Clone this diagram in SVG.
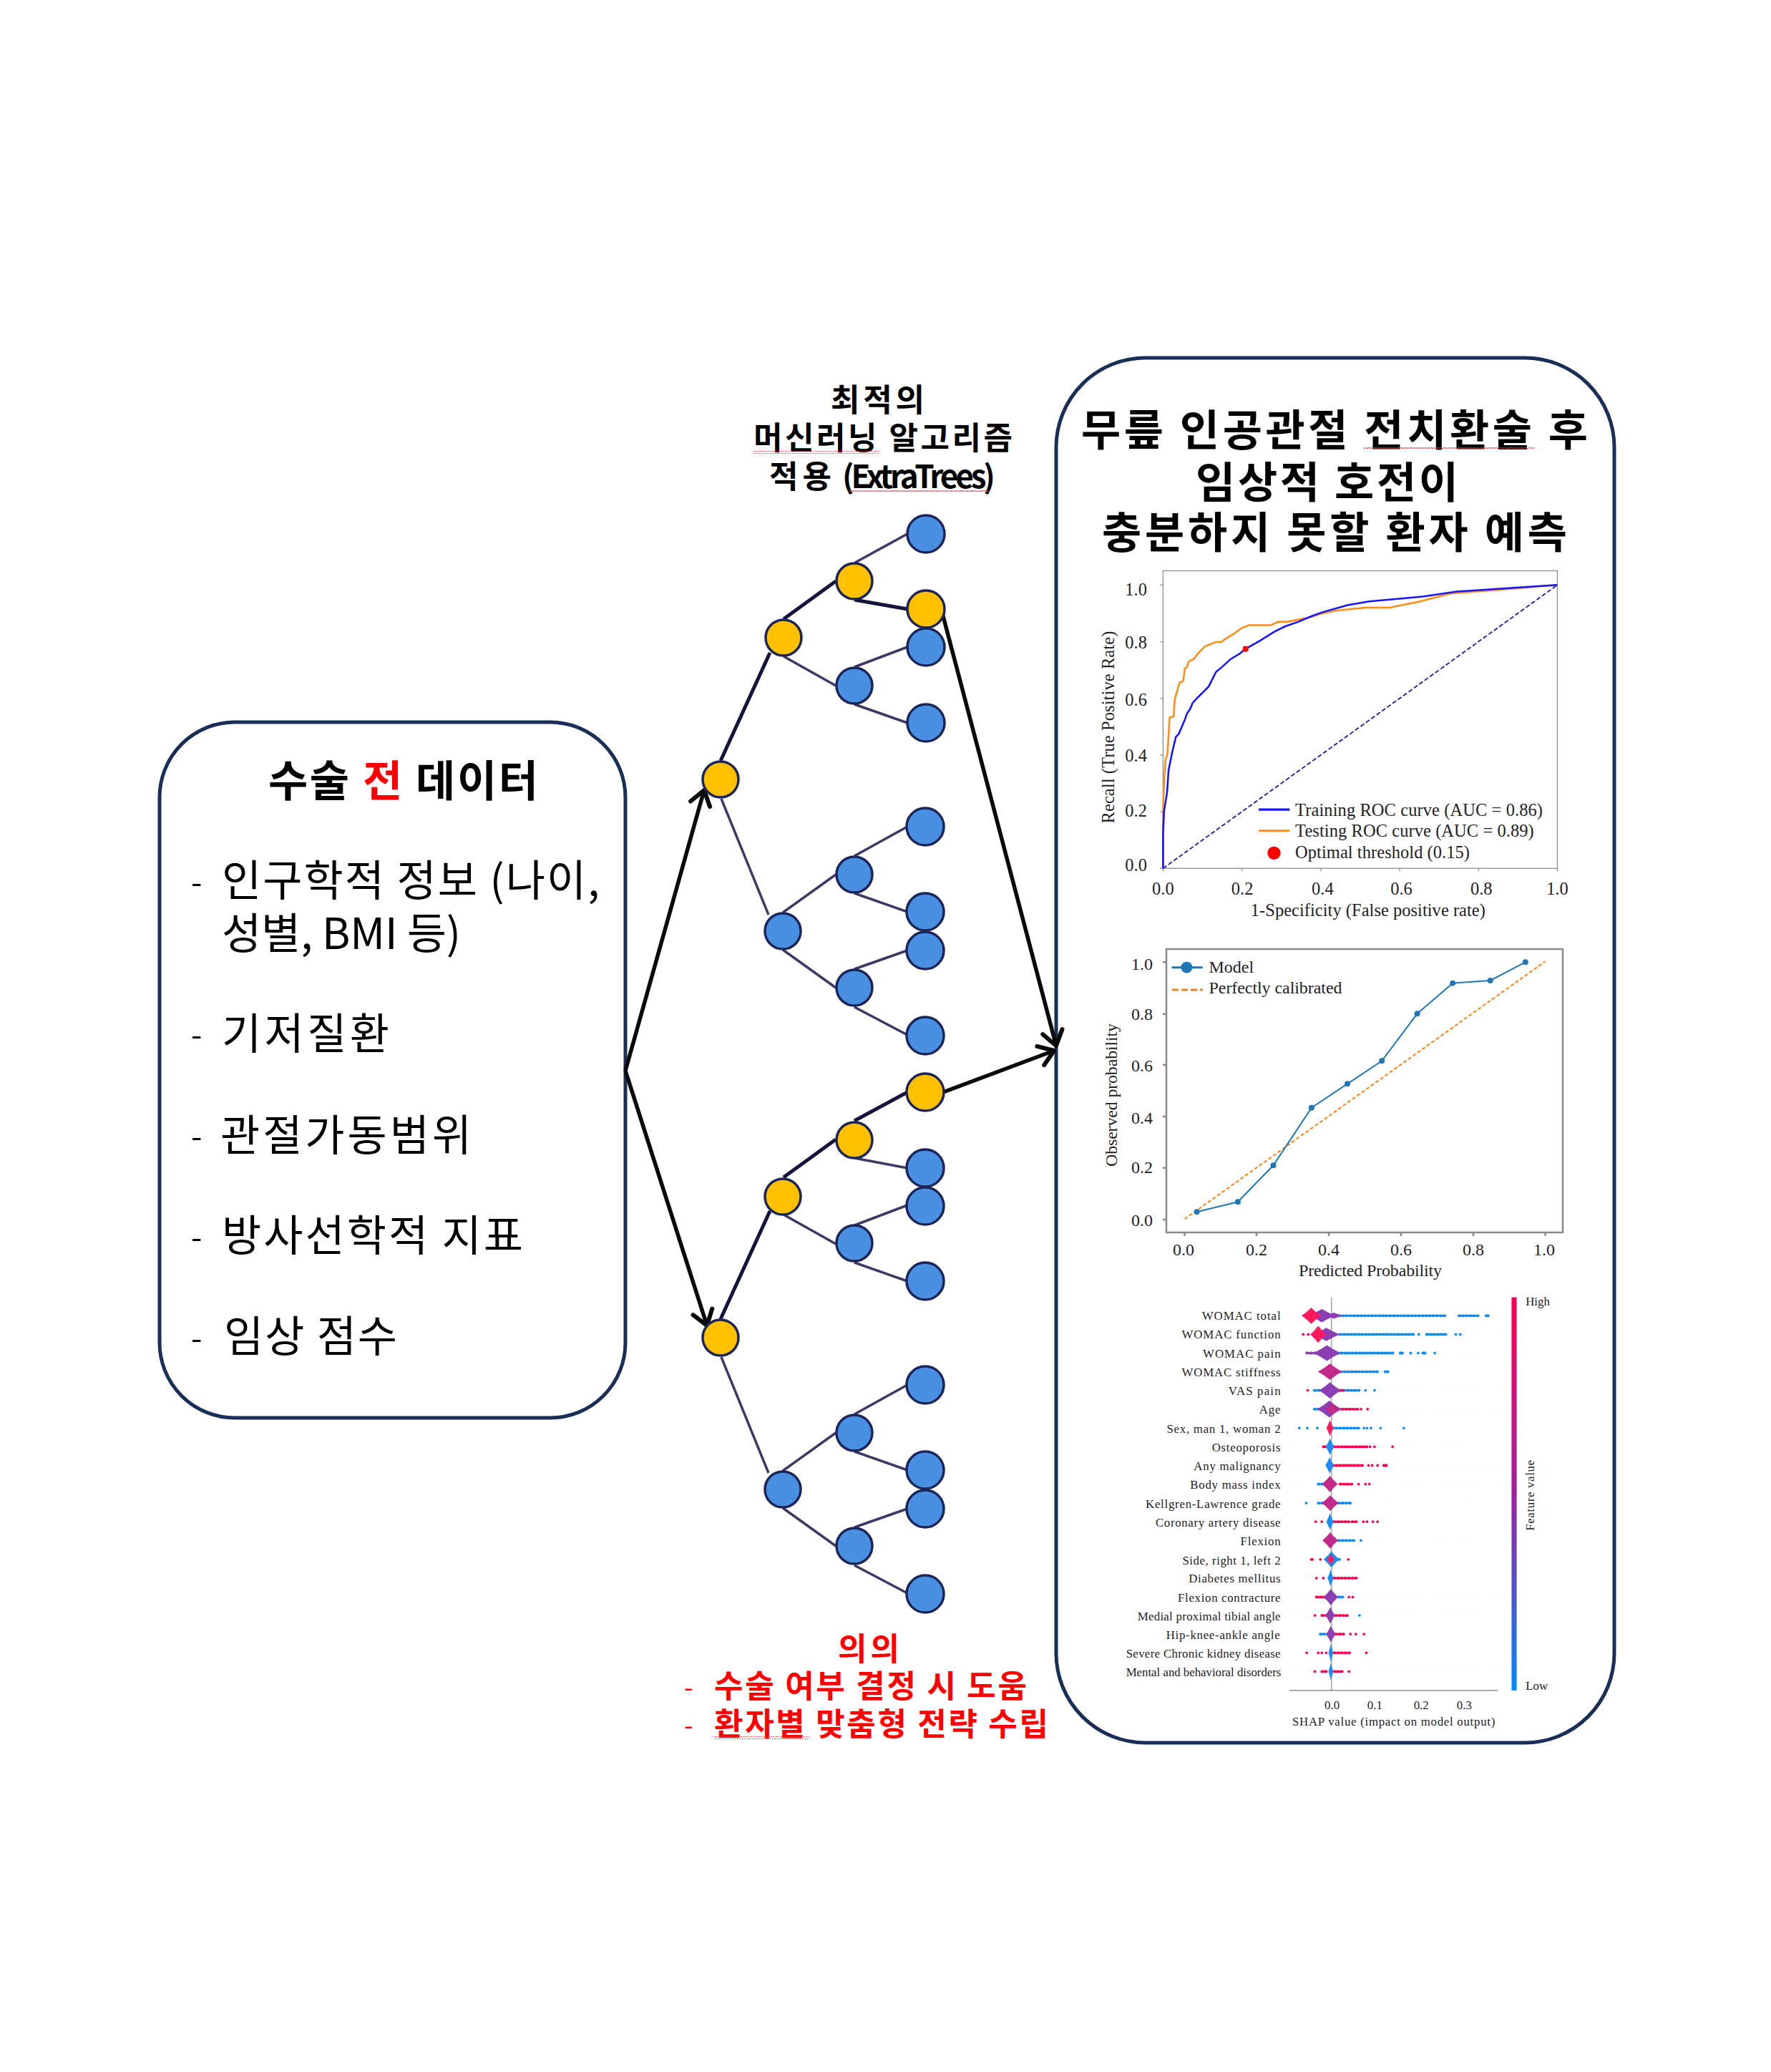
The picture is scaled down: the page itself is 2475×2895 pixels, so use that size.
<svg xmlns="http://www.w3.org/2000/svg" width="2475" height="2895" viewBox="0 0 2475 2895">
<style>
text{font-family:"Noto Sans CJK KR","Noto Sans",sans-serif;fill:#000}
.ttl{font-weight:700}
.lst{font-size:60px}
.dash{font-size:44px}
.red{fill:#f00}
.box{fill:#fff;stroke:#1a2f57;stroke-width:5}
.y circle{fill:#ffc000}
.b circle{fill:#4a90e2}
.y circle,.b circle{stroke:#1b2558;stroke-width:3.5}
.e1{fill:none;stroke:#14143c;stroke-width:5}
.e2{fill:none;stroke:#3c3a64;stroke-width:3.5}
.arr{fill:none;stroke:#0a0a0a;stroke-width:5.5;marker-end:url(#ah)}
.sf text,text.sf{font-family:"Liberation Serif","Times New Roman",serif;fill:#222}
.ax{fill:none;stroke:#8a8a8a;stroke-width:2.5}
.rd{fill:none;stroke:#ff0051;stroke-width:9;stroke-linecap:round}
.bl{fill:none;stroke:#0a8bfb;stroke-width:9;stroke-linecap:round}
.pu{fill:none;stroke:#8a3fb0;stroke-width:9;stroke-linecap:round}
.tail{stroke-dasharray:4 8}
.grid{stroke:#eee;stroke-width:2;stroke-dasharray:3 7}
.bp{fill:#ff1a5e}.bu{fill:#8b3fb2}.bb{fill:#1a8df5}.bm{fill:#c22a8a}
</style>
<defs>
<marker id="ah" viewBox="0 0 32 32" refX="27" refY="16" markerWidth="32" markerHeight="32" markerUnits="userSpaceOnUse" orient="auto" overflow="visible"><path d="M7 2L27 16L7 30" fill="none" stroke="#0a0a0a" stroke-width="6" stroke-linecap="round" stroke-linejoin="round"/></marker>
<pattern id="wave" width="7" height="4" patternUnits="userSpaceOnUse"><path d="M0 3L1.75 1L3.5 3L5.25 1L7 3" fill="none" stroke="#f33" stroke-width="1"/></pattern>
<path id="blob" d="M-1 0Q-.45 -.45 0 -1Q.45 -.45 1 0Q.45 .45 0 1Q-.45 .45 -1 0Z"/>
<linearGradient id="cb" x1="0" y1="0" x2="0" y2="1"><stop offset="0" stop-color="#ff0051"/><stop offset=".5" stop-color="#a020a0"/><stop offset="1" stop-color="#008bfb"/></linearGradient>
</defs>
<rect width="2475" height="2895" fill="#fff"/>

<g id="input-box">
<rect class="box" x="223" y="1009" width="651" height="972" rx="105" ry="105"/>
<text class="ttl" x="375" y="1113" font-size="60" textLength="377">수술 <tspan class="red">전</tspan> 데이터</text>
<text class="dash" x="267" y="1249">-</text><text class="lst" x="310" y="1252" textLength="528">인구학적 정보 (나이,</text>
<text class="lst" x="310" y="1326" textLength="334">성별, BMI 등)</text>
<text class="dash" x="267" y="1462">-</text><text class="lst" x="310" y="1466" textLength="234">기저질환</text>
<text class="dash" x="267" y="1604">-</text><text class="lst" x="308" y="1608" textLength="351">관절가동범위</text>
<text class="dash" x="267" y="1745">-</text><text class="lst" x="310" y="1748" textLength="421">방사선학적 지표</text>
<text class="dash" x="267" y="1886">-</text><text class="lst" x="313" y="1889" textLength="242">임상 점수</text>
</g>

<g id="result-box">
<rect class="box" x="1476" y="500" width="780" height="1935" rx="125" ry="125"/>
<text class="ttl" x="1511" y="623" font-size="60" textLength="708">무릎 인공관절 전치환술 후</text>
<text class="ttl" x="1671" y="696" font-size="60" textLength="367">임상적 호전이</text>
<text class="ttl" x="1540" y="766" font-size="60" textLength="650">충분하지 못할 환자 예측</text>
<rect x="1906" y="625" width="239" height="4" fill="url(#wave)"/>
</g>

<g id="tree-title">
<text class="ttl" x="1161" y="575" font-size="44" textLength="131">최적의</text>
<text class="ttl" x="1053" y="628" font-size="44" textLength="362">머신러닝 알고리즘</text>
<text class="ttl" x="1075" y="682" font-size="44" textLength="87">적용</text>
<text class="ttl" x="1177" y="682" font-size="44" textLength="214">(ExtraTrees)</text>
<rect x="1052" y="630" width="177" height="4" fill="url(#wave)"/>
<rect x="1187" y="683" width="195" height="4" fill="url(#wave)"/>
</g>

<g id="significance">
<text class="ttl red" x="1171" y="2320" font-size="44" textLength="86">의의</text>
<text class="red" x="956" y="2371" font-size="36">-</text><text class="ttl red" x="998" y="2372" font-size="44" textLength="437">수술 여부 결정 시 도움</text>
<text class="red" x="956" y="2424" font-size="36">-</text><text class="ttl red" x="998" y="2425" font-size="44" textLength="467">환자별 맞춤형 전략 수립</text>
<rect x="997" y="2426" width="134" height="4" fill="url(#wave)"/>
</g>

<g id="connectors">
<g id="tree1-edges">
<path class="e1" d="M1007 1063L1076 912M1095 865L1168 812M1194 838L1268 851"/>
<path class="e2" d="M1195 786L1268 746M1095 917L1168 958M1194 932L1268 904M1194 984L1268 1010M1008 1116L1074 1278"/>
<path class="e2" d="M1094 1275L1168 1222M1194 1196L1268 1155M1194 1248L1268 1274M1094 1327L1168 1380M1194 1354L1268 1328M1194 1407L1268 1446"/>
</g>
<g id="tree2-edges">
<path class="e1" d="M1007 1843L1076 1692M1095 1645L1168 1592M1194 1566L1268 1526"/>
<path class="e2" d="M1194 1618L1268 1632M1095 1697L1168 1738M1194 1712L1268 1684M1194 1764L1268 1790M1008 1896L1074 2058"/>
<path class="e2" d="M1094 2055L1168 2002M1194 1976L1268 1935M1194 2028L1268 2054M1094 2107L1168 2160M1194 2134L1268 2108M1194 2187L1268 2226"/>
</g>
<path class="arr" d="M874 1496L984 1104"/>
<path class="arr" d="M874 1496L988 1852"/>
<path class="arr" d="M1317 857L1476 1461"/>
<path class="arr" d="M1318 1526L1473 1468"/>
</g>

<g id="n1r" class="y"><circle cx="1007" cy="1089" r="25"/></g>
<g id="n1a" class="y"><circle cx="1095" cy="891" r="25"/></g>
<g id="n1aa" class="y"><circle cx="1194" cy="812" r="25"/></g>
<g id="n1aaa" class="b"><circle cx="1294" cy="746" r="26"/></g>
<g id="n1aab" class="y"><circle cx="1294" cy="851" r="26"/></g>
<g id="n1ab" class="b"><circle cx="1194" cy="958" r="25"/></g>
<g id="n1aba" class="b"><circle cx="1294" cy="904" r="26"/></g>
<g id="n1abb" class="b"><circle cx="1294" cy="1010" r="26"/></g>
<g id="n1b" class="b"><circle cx="1094" cy="1301" r="25"/></g>
<g id="n1ba" class="b"><circle cx="1194" cy="1222" r="25"/></g>
<g id="n1baa" class="b"><circle cx="1293" cy="1155" r="26"/></g>
<g id="n1bab" class="b"><circle cx="1293" cy="1274" r="26"/></g>
<g id="n1bb" class="b"><circle cx="1194" cy="1380" r="25"/></g>
<g id="n1bba" class="b"><circle cx="1293" cy="1328" r="26"/></g>
<g id="n1bbb" class="b"><circle cx="1293" cy="1447" r="26"/></g>

<g id="n2r" class="y"><circle cx="1007" cy="1869" r="25"/></g>
<g id="n2a" class="y"><circle cx="1094" cy="1672" r="25"/></g>
<g id="n2aa" class="y"><circle cx="1194" cy="1593" r="25"/></g>
<g id="n2aaa" class="y"><circle cx="1293" cy="1526" r="26"/></g>
<g id="n2aab" class="b"><circle cx="1293" cy="1632" r="26"/></g>
<g id="n2ab" class="b"><circle cx="1194" cy="1737" r="25"/></g>
<g id="n2aba" class="b"><circle cx="1293" cy="1685" r="26"/></g>
<g id="n2abb" class="b"><circle cx="1293" cy="1790" r="26"/></g>
<g id="n2b" class="b"><circle cx="1094" cy="2081" r="25"/></g>
<g id="n2ba" class="b"><circle cx="1194" cy="2002" r="25"/></g>
<g id="n2baa" class="b"><circle cx="1293" cy="1935" r="26"/></g>
<g id="n2bab" class="b"><circle cx="1293" cy="2054" r="26"/></g>
<g id="n2bb" class="b"><circle cx="1194" cy="2160" r="25"/></g>
<g id="n2bba" class="b"><circle cx="1293" cy="2108" r="26"/></g>
<g id="n2bbb" class="b"><circle cx="1293" cy="2227" r="26"/></g>

<g id="roc-chart" class="sf" transform="translate(1480 500) scale(.5102)" font-size="48">
<rect class="ax" x="285" y="583" width="1080" height="815"/>
<path class="ax" d="M285 622h-8M285 778h-8M285 933h-8M285 1088h-8M285 1243h-8M285 1398h-8M285 1398v8M501 1398v8M717 1398v8M933 1398v8M1149 1398v8M1365 1398v8"/>
<path d="M285 1398L1365 622" fill="none" stroke="#1a1a9c" stroke-width="3.5" stroke-dasharray="12 6"/>
<path fill="none" stroke="#ff8c14" stroke-width="5" d="M285 1398L285 1240L288 1155L292 1100L297 1085L303 985L314 982L317 935L330 890L340 885L345 850L350 848L355 832L370 824L380 810L400 790L430 778L445 778L455 770L480 755L500 740L520 732L580 732L600 723L625 723L690 710L720 700L760 692L840 684L905 684L985 668L1075 645L1170 638L1365 622"/>
<path fill="none" stroke="#1414ff" stroke-width="5" d="M285 1398L285 1300L288 1240L296 1190L300 1130L310 1080L320 1038L328 1030L345 990L350 975L360 960L366 945L380 930L395 915L410 900L430 860L445 848L470 825L495 810L511 797L550 775L590 750L620 735L655 723L690 708L720 697L790 677L850 667L960 657L1000 653L1090 640L1150 636L1365 622"/>
<circle cx="511" cy="797" r="8" fill="#f00"/>
<path d="M547 1237h85" stroke="#1414ff" stroke-width="6"/><path d="M547 1295h85" stroke="#ff8c14" stroke-width="6"/>
<circle cx="589" cy="1356" r="18" fill="#f00"/>
<text x="647" y="1254" textLength="678">Training ROC curve (AUC = 0.86)</text>
<text x="647" y="1312" textLength="654">Testing ROC curve (AUC = 0.89)</text>
<text x="647" y="1370" textLength="478">Optimal threshold (0.15)</text>
<g text-anchor="end"><text x="241" y="650">1.0</text><text x="241" y="795">0.8</text><text x="241" y="952">0.6</text><text x="241" y="1105">0.4</text><text x="241" y="1257">0.2</text><text x="241" y="1405">0.0</text></g>
<g text-anchor="middle"><text x="285" y="1470">0.0</text><text x="502" y="1470">0.2</text><text x="722" y="1470">0.4</text><text x="938" y="1470">0.6</text><text x="1157" y="1470">0.8</text><text x="1365" y="1470">1.0</text></g>
<text x="525" y="1528" textLength="643">1-Specificity (False positive rate)</text>
<text transform="translate(150 1275) rotate(-90)" textLength="527">Recall (True Positive Rate)</text>
</g>

<g id="calibration-chart" class="sf" font-size="24">
<rect class="ax" x="1630" y="1326" width="554" height="396"/>
<path class="ax" d="M1630 1344.3h-5M1630 1416.7h-5M1630 1487.7h-5M1630 1560h-5M1630 1631.7h-5M1630 1704h-5M1655.5 1722v5M1756 1722v5M1857 1722v5M1958 1722v5M2059 1722v5M2159.5 1722v5"/>
<path d="M1655.5 1703.3L2159.5 1343.3" fill="none" stroke="#ff7f0e" stroke-width="2" stroke-dasharray="5 3"/>
<path d="M1672.5 1693.3L1729.9 1679.3L1779.5 1628.3L1832.9 1547.7L1883 1514.3L1931.1 1482.3L1980.6 1416.3L2030.2 1373.7L2082.7 1370L2131.8 1344.3" fill="none" stroke="#1f77b4" stroke-width="2"/>
<g fill="#1f77b4"><circle cx="1672.5" cy="1693.3" r="4"/><circle cx="1729.9" cy="1679.3" r="4"/><circle cx="1779.5" cy="1628.3" r="4"/><circle cx="1832.9" cy="1547.7" r="4"/><circle cx="1883" cy="1514.3" r="4"/><circle cx="1931.1" cy="1482.3" r="4"/><circle cx="1980.6" cy="1416.3" r="4"/><circle cx="2030.2" cy="1373.7" r="4"/><circle cx="2082.7" cy="1370" r="4"/><circle cx="2131.8" cy="1344.3" r="4"/></g>
<path d="M1637.5 1351.7h43.3" stroke="#1f77b4" stroke-width="3"/><circle cx="1658.4" cy="1351.7" r="8" fill="#1f77b4"/>
<path d="M1638 1383h43" stroke="#ff7f0e" stroke-width="3" stroke-dasharray="9 4"/>
<text x="1689.5" y="1359">Model</text>
<text x="1689.5" y="1388" textLength="186">Perfectly calibrated</text>
<g text-anchor="end"><text x="1611" y="1355">1.0</text><text x="1611" y="1425">0.8</text><text x="1611" y="1497">0.6</text><text x="1611" y="1570">0.4</text><text x="1611" y="1639">0.2</text><text x="1611" y="1713">0.0</text></g>
<g text-anchor="middle"><text x="1654" y="1754">0.0</text><text x="1756" y="1754">0.2</text><text x="1857" y="1754">0.4</text><text x="1958" y="1754">0.6</text><text x="2059" y="1754">0.8</text><text x="2158" y="1754">1.0</text></g>
<text x="1815" y="1783" textLength="200">Predicted Probability</text>
<text transform="translate(1561 1630) rotate(-90)" textLength="200">Observed probability</text>
</g>

<g id="shap-chart" class="sf" transform="translate(1540 1800) scale(.4209)" font-size="40">
<path class="grid" d="M622 91H1315M622 153H1315M622 215H1315M622 277H1315M622 339H1315M622 401H1315M622 464H1315M622 526H1315M622 588H1315M622 650H1315M622 713H1315M622 775H1315M622 837H1315M622 900H1315M622 962H1315M622 1025H1315M622 1086H1315M622 1148H1315M622 1210H1315M622 1272H1315"/>
<path d="M762 30V1335" stroke="#aaa" stroke-width="4"/>
<path d="M622 1335H1315" stroke="#777" stroke-width="3"/>
<path class="bl tail" d="M775 91H1140M1185 91H1255M790 153H1040M1078 153H1148M770 215H970M780 277H915M790 339H855M705 339H735M705 401H735M765 464H855M718 650H735M718 713H735M785 713H830M785 837H845M725 1148H745M785 900H797M785 1025H800"/>
<path class="bl" d="M1275 91h8M1052 153h0M1175 153h0M1190 153h0M990 215h8M1025 215h0M1050 215h0M1065 215h8M1105 215h0M940 277h10M875 339h0M905 339h0M655 464h0M682 464h0M715 464h0M870 464h0M880 464h0M893 464h0M925 464h0M1002 464h0M678 713h0M860 837h0M855 1086h0"/>
<path class="rd tail" d="M785 339H805M785 401H850M770 526H880M765 588H870M790 650H830M770 775H820M830 775H845M770 962H845M712 1025H745M730 1086H745M775 1086H820M775 1148H810M770 1210H825M730 1272H745M770 1272H805M695 900H705"/>
<path class="rd" d="M668 153h0M685 153h0M683 339h0M860 401h0M882 401h0M735 526h10M890 526h0M905 526h0M965 526h0M885 588h0M897 588h0M915 588h0M935 588h10M852 650h0M875 650h0M888 650h0M710 775h0M730 775h0M868 775h0M880 775h0M900 775h0M915 775h0M725 900h0M818 900h0M712 962h0M735 962h0M820 1025h0M833 1025h0M707 1086h0M825 1148h0M843 1148h0M870 1148h0M680 1210h0M718 1210h0M730 1210h0M745 1210h0M878 1210h0M707 1272h0M820 1272h0"/>
<path class="pu tail" d="M680 215H710"/>
<use href="#blob" class="bu" transform="translate(730 91) scale(45 22)"/><use href="#blob" class="bp" transform="translate(695 91) scale(32 27)"/><use href="#blob" class="bu" transform="translate(770 91) scale(30 10)"/>
<use href="#blob" class="bu" transform="translate(745 153) scale(45 22)"/><use href="#blob" class="bp" transform="translate(718 153) scale(26 28)"/>
<use href="#blob" class="bu" transform="translate(747 215) scale(45 26)"/>
<use href="#blob" class="bm" transform="translate(757 277) scale(40 27)"/>
<use href="#blob" class="bu" transform="translate(757 339) scale(36 27)"/>
<use href="#blob" class="bu" transform="translate(755 401) scale(40 28)"/><use href="#blob" class="bm" transform="translate(765 401) scale(22 20)"/>
<use href="#blob" class="bp" transform="translate(757 464) scale(12 26)"/>
<use href="#blob" class="bb" transform="translate(757 526) scale(14 27)"/>
<use href="#blob" class="bb" transform="translate(756 588) scale(14 27)"/>
<use href="#blob" class="bm" transform="translate(757 650) scale(26 27)"/>
<use href="#blob" class="bm" transform="translate(758 713) scale(28 26)"/>
<use href="#blob" class="bb" transform="translate(757 775) scale(12 27)"/>
<use href="#blob" class="bm" transform="translate(758 837) scale(26 27)"/>
<use href="#blob" class="bb" transform="translate(762 900) scale(26 27)"/><use href="#blob" class="bp" transform="translate(760 900) scale(12 18)"/>
<use href="#blob" class="bb" transform="translate(759 962) scale(10 27)"/>
<use href="#blob" class="bu" transform="translate(760 1025) scale(24 27)"/>
<use href="#blob" class="bu" transform="translate(758 1086) scale(16 27)"/>
<use href="#blob" class="bu" transform="translate(760 1148) scale(16 27)"/>
<use href="#blob" class="bb" transform="translate(760 1210) scale(8 30)"/>
<use href="#blob" class="bb" transform="translate(760 1272) scale(8 28)"/>
<text x="332" y="105" textLength="261">WOMAC total</text><text x="265" y="167" textLength="328">WOMAC function</text><text x="335" y="231" textLength="258">WOMAC pain</text><text x="265" y="292" textLength="328">WOMAC stiffness</text><text x="420" y="354" textLength="173">VAS pain</text><text x="522" y="416" textLength="71">Age</text><text x="215" y="481" textLength="378">Sex, man 1, woman 2</text><text x="365" y="542" textLength="228">Osteoporosis</text><text x="305" y="604" textLength="288">Any malignancy</text><text x="293" y="665" textLength="300">Body mass index</text><text x="145" y="729" textLength="448">Kellgren-Lawrence grade</text><text x="178" y="791" textLength="415">Coronary artery disease</text><text x="460" y="853" textLength="133">Flexion</text><text x="267" y="916" textLength="326">Side, right 1, left 2</text><text x="288" y="977" textLength="305">Diabetes mellitus</text><text x="252" y="1041" textLength="341">Flexion contracture</text><text x="118" y="1102" textLength="475">Medial proximal tibial angle</text><text x="213" y="1164" textLength="378">Hip-knee-ankle angle</text><text x="80" y="1226" textLength="513">Severe Chronic kidney disease</text><text x="80" y="1288" textLength="515">Mental and behavioral disorders</text>
<g text-anchor="middle"><text x="764" y="1398">0.0</text><text x="906" y="1398">0.1</text><text x="1060" y="1398">0.2</text><text x="1203" y="1398">0.3</text></g>
<text x="632" y="1452" textLength="673">SHAP value (impact on model output)</text>
<rect x="1360" y="30" width="17" height="1305" fill="url(#cb)"/>
<text x="1407" y="58">High</text><text x="1407" y="1333">Low</text>
<text transform="translate(1435 805) rotate(-90)" textLength="235">Feature value</text>
</g>
</svg>
